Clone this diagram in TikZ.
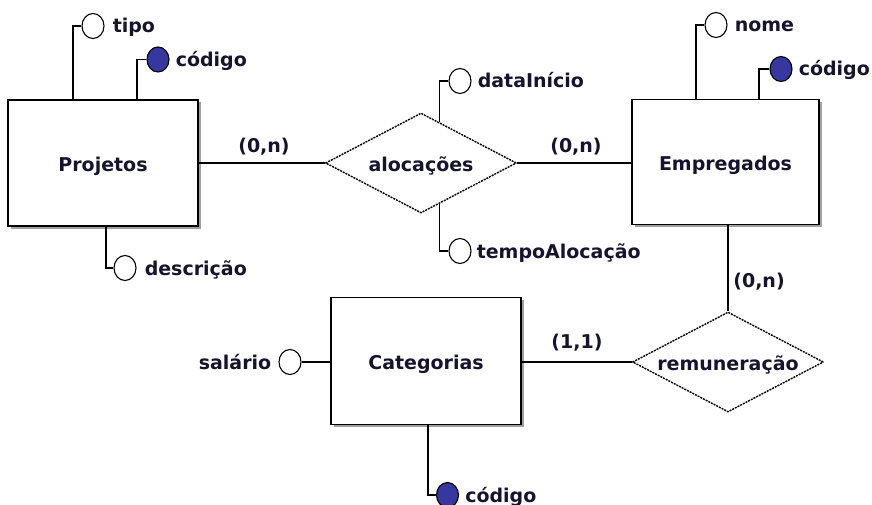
\documentclass[tikz,border=0pt]{standalone}
\usepackage{fontspec}
\setmainfont{DejaVu Sans}
\usetikzlibrary{shapes.geometric,shadows}
\definecolor{txt}{RGB}{20,20,45}
\definecolor{keyblue}{RGB}{55,55,160}
\definecolor{shadowgray}{RGB}{150,150,150}
\newcommand{\lowtxt}[1]{\raisebox{-3pt}[\height][\depth]{#1}}
\begin{document}
\begin{tikzpicture}[x=1pt,y=-1pt,
  font=\fontsize{19}{22}\selectfont\bfseries,
  entity/.style={draw, line width=1.6pt, fill=white, text=txt, inner sep=0pt,
    drop shadow={shadow xshift=2.5pt, shadow yshift=-2.5pt, fill=shadowgray, opacity=0.9}},
  relation/.style={diamond, draw, dash pattern=on 2pt off 1pt, line width=1.4pt,
    fill=white, text=txt, inner sep=0pt, aspect=1.9,
    minimum width=191pt, minimum height=100pt},
  attr/.style={ellipse, draw, line width=1.1pt, fill=white, inner sep=0pt,
    minimum width=22pt, minimum height=25pt},
  keyattr/.style={attr, fill=keyblue},
  lbl/.style={text=txt, inner sep=0pt, anchor=base west},
  lblL/.style={text=txt, inner sep=0pt, anchor=base east},
  card/.style={text=txt, inner sep=0pt},
  conn/.style={line width=1.3pt}]
\useasboundingbox (0,0) rectangle (872,505);

% entities
\node[entity, minimum width=190pt, minimum height=126pt] (Projetos) at (103,163) {\lowtxt{Projetos}};
\node[entity, minimum width=187pt, minimum height=125pt] (Empregados) at (725.5,162) {\lowtxt{Empregados}};
\node[entity, minimum width=190pt, minimum height=127pt] (Categorias) at (426,361) {\lowtxt{Categorias}};

% relationships
\node[relation] (alocacoes) at (421,163) {\lowtxt{alocações}};
\node[relation] (remuneracao) at (728,362) {\lowtxt{remuneração}};

% attributes
\node[attr] (tipo) at (93,26) {};
\node[keyattr] (codP) at (158,59.5) {};
\node[attr] (desc) at (125,268) {};
\node[attr] (dataI) at (460,81) {};
\node[attr] (tempoA) at (460,251) {};
\node[attr] (nome) at (716,25) {};
\node[keyattr] (codE) at (781,69) {};
\node[attr] (salario) at (290,362) {};
\node[keyattr] (codC) at (447.5,495) {};

% attribute labels
\node[lbl] (tipoT) at ([xshift=8pt,yshift=-7pt]tipo.east) {tipo};
\node[lbl] (codPT) at ([xshift=6pt,yshift=-7pt]codP.east) {código};
\node[lbl] (descT) at ([xshift=8pt,yshift=-7pt]desc.east) {descrição};
\node[lbl] (dataIT) at ([xshift=6pt,yshift=-7pt]dataI.east) {dataInício};
\node[lbl] (tempoAT) at ([xshift=5pt,yshift=-7pt]tempoA.east) {tempoAlocação};
\node[lbl] (nomeT) at ([xshift=7pt,yshift=-7pt]nome.east) {nome};
\node[lbl] (codET) at ([xshift=6pt,yshift=-7pt]codE.east) {código};
\node[lblL] (salarioT) at ([xshift=-7pt,yshift=-7pt]salario.west) {salário};
\node[lbl] (codCT) at ([xshift=6pt,yshift=-7pt]codC.east) {código};

% attribute connectors
\draw[conn] (tipo.west) -| (73,0 |- Projetos.north);
\draw[conn] (codP.west) -| (137,0 |- Projetos.north);
\draw[conn] (desc.west) -| (106,0 |- Projetos.south);
\draw[conn] (dataI.west) -| (alocacoes.66);
\draw[conn] (tempoA.west) -| (alocacoes.-66);
\draw[conn] (nome.west) -| (696,0 |- Empregados.north);
\draw[conn] (codE.west) -| (759,0 |- Empregados.north);
\draw[conn] (salario.east) -- (Categorias.west |- salario.east);
\draw[conn] (codC.west) -| (428,0 |- Categorias.south);

% relationship connectors
\draw[conn] (Projetos.east) -- (alocacoes.west);
\draw[conn] (alocacoes.east) -- (Empregados.west |- alocacoes.east);
\draw[conn] (remuneracao.north |- Empregados.south) -- (remuneracao.north);
\draw[conn] (Categorias.east |- remuneracao.west) -- (remuneracao.west);

% cardinalities
\node[card] (c1) at (264,147) {(0,n)};
\node[card] (c2) at (576,147) {(0,n)};
\node[card] (c3) at (759,282) {(0,n)};
\node[card] (c4) at (577,343) {(1,1)};
\end{tikzpicture}
\end{document}
